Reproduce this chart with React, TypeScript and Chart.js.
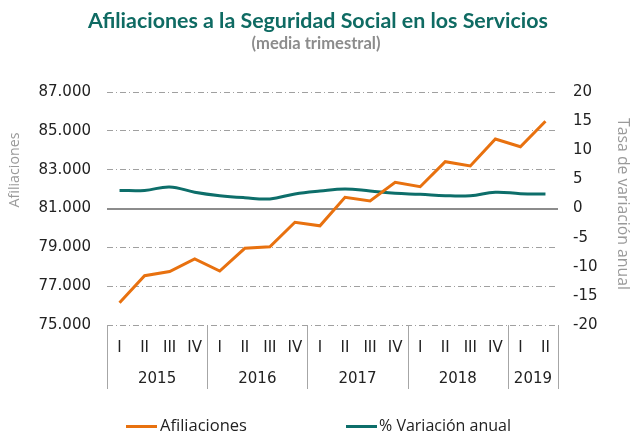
import React, { useEffect, useRef } from "react";
import { Chart, registerables } from "chart.js";

Chart.register(...registerables);

const quarters = ["I", "II", "III", "IV", "I", "II", "III", "IV", "I", "II", "III", "IV", "I", "II", "III", "IV", "I", "II"];
const years = ["2015", "2016", "2017", "2018", "2019"];
const yearSpans = [4, 4, 4, 4, 2];
const afiliaciones = [76150, 77540, 77750, 78400, 77780, 78950, 79030, 80290, 80110, 81580, 81390, 82350, 82120, 83410, 83190, 84580, 84180, 85490];
const variacion = [3.1, 3.1, 3.7, 2.8, 2.2, 1.85, 1.65, 2.5, 3.0, 3.35, 3.0, 2.6, 2.45, 2.2, 2.2, 2.8, 2.55, 2.5];
const leftTicks = [75000, 77000, 79000, 81000, 83000, 85000, 87000];
const rightTicks = [-20, -15, -10, -5, 0, 5, 10, 15, 20];

const TITLE = "Afiliaciones a la Seguridad Social en los Servicios";
const SUBTITLE = "(media trimestral)";
const LEFT_TITLE = "Afiliaciones";
const RIGHT_TITLE = "Tasa de variación anual";
const SERIES_NAMES = ["Afiliaciones", "% Variación anual"];

const ORANGE = "#E8710F";
const TEAL = "#0D6E6A";
const TICK_FONT = "DejaVu Sans";

function fmt(v: number) {
  const s = Math.round(v).toString();
  return s.replace(/\B(?=(\d{3})+(?!\d))/g, ".");
}

function fitFont(ctx: CanvasRenderingContext2D, text: string, weight: string, family: string, target: number, base: number) {
  ctx.font = `${weight} ${base}px "${family}"`;
  const w = ctx.measureText(text).width;
  const size = (base * target) / w;
  ctx.font = `${weight} ${size.toFixed(2)}px "${family}"`;
}

const overlay = {
  id: "overlay",
  afterDraw(chart: any) {
    const ctx: CanvasRenderingContext2D = chart.ctx;
    const xs = chart.scales.x;
    const area = chart.chartArea;
    const n = quarters.length;
    const band = (xs.right - xs.left) / n;
    ctx.save();
    // dividers
    ctx.strokeStyle = "#a6a6a6";
    ctx.lineWidth = 1;
    let idx = 0;
    const bounds = [0];
    yearSpans.forEach((s) => { idx += s; bounds.push(idx); });
    bounds.forEach((b) => {
      const x = Math.round(b < n ? xs.getPixelForValue(b) - band / 2 : xs.getPixelForValue(n - 1) + band / 2) + 0.5;
      ctx.beginPath();
      ctx.moveTo(x, area.bottom);
      ctx.lineTo(x, 389);
      ctx.stroke();
    });
    // year labels
    ctx.fillStyle = "#222";
    ctx.font = `15px "${TICK_FONT}"`;
    ctx.textAlign = "center";
    ctx.textBaseline = "middle";
    let start = 0;
    years.forEach((y, i) => {
      const end = start + yearSpans[i];
      const x0 = xs.getPixelForValue(start) - band / 2;
      const x1 = xs.getPixelForValue(end - 1) + band / 2;
      ctx.fillText(y, (x0 + x1) / 2, 379);
      start = end;
    });
    // title
    ctx.fillStyle = "#0F6B63";
    fitFont(ctx, TITLE, "bold", "Lato", 460, 19);
    ctx.fillText(TITLE, 318, 21);
    ctx.fillStyle = "#8c8c8c";
    fitFont(ctx, SUBTITLE, "bold", "Lato", 129, 15);
    ctx.fillText(SUBTITLE, 316, 44);
    // axis titles
    ctx.fillStyle = "#9a9a9a";
    fitFont(ctx, LEFT_TITLE, "normal", "Open Sans", 75, 14);
    ctx.save();
    ctx.translate(15, 170);
    ctx.rotate(-Math.PI / 2);
    ctx.fillText(LEFT_TITLE, 0, 0);
    ctx.restore();
    fitFont(ctx, RIGHT_TITLE, "normal", "Open Sans", 172, 14);
    ctx.save();
    ctx.translate(622, 204);
    ctx.rotate(Math.PI / 2);
    ctx.fillText(RIGHT_TITLE, 0, 0);
    ctx.restore();
    // legend
    const items = [
      { x0: 126, x1: 157, tx: 160, tw: 87 },
      { x0: 346, x1: 377, tx: 379, tw: 132 },
    ];
    chart.data.datasets.forEach((ds: any, i: number) => {
      const it = items[i];
      ctx.strokeStyle = ds.borderColor;
      ctx.lineWidth = 3;
      ctx.beginPath();
      ctx.moveTo(it.x0, 426.5);
      ctx.lineTo(it.x1, 426.5);
      ctx.stroke();
      ctx.fillStyle = "#222";
      ctx.textAlign = "left";
      fitFont(ctx, ds.label, "normal", "Open Sans", it.tw, 16);
      ctx.fillText(ds.label, it.tx, 426);
    });
    ctx.restore();
  },
};

export default function App() {
  const ref = useRef<HTMLCanvasElement | null>(null);
  useEffect(() => {
    if (!ref.current) return;
    const chart = new Chart(ref.current, {
      type: "line",
      data: {
        labels: quarters,
        datasets: [
          {
            label: SERIES_NAMES[0],
            data: afiliaciones,
            borderColor: ORANGE,
            backgroundColor: ORANGE,
            borderWidth: 3,
            pointRadius: 0,
            tension: 0,
            yAxisID: "y",
          },
          {
            label: SERIES_NAMES[1],
            data: variacion,
            borderColor: TEAL,
            backgroundColor: TEAL,
            borderWidth: 3,
            pointRadius: 0,
            tension: 0.4,
            yAxisID: "y1",
          },
        ],
      },
      options: {
        responsive: false,
        animation: false,
        devicePixelRatio: 1,
        layout: { padding: { top: 92, left: 0, right: 0, bottom: 0 } },
        plugins: { legend: { display: false }, title: { display: false }, tooltip: { enabled: false } },
        scales: {
          x: {
            type: "category",
            offset: true,
            grid: { display: false, drawTicks: false },
            border: { display: false },
            ticks: {
              color: "#222",
              font: { family: TICK_FONT, size: 15 },
              padding: 14,
              maxRotation: 0,
              autoSkip: false,
            },
            afterFit: (s: any) => { s.height = 107; },
          },
          y: {
            position: "left",
            min: 75000,
            max: 87000,
            afterBuildTicks: (s: any) => { s.ticks = leftTicks.map((v) => ({ value: v })); },
            grid: {
              drawTicks: false,
              color: (c: any) => (c.tick && c.tick.value === 81000 ? "rgba(0,0,0,0)" : "#a0a0a0"),
              lineWidth: 1,
            },
            border: { display: false, dash: [6, 3, 1, 3] },
            ticks: {
              color: "#222",
              font: { family: TICK_FONT, size: 15 },
              padding: 16,
              callback: (v: any) => fmt(Number(v)),
            },
            afterFit: (s: any) => { s.width = 107; },
          },
          y1: {
            position: "right",
            min: -20,
            max: 20,
            afterBuildTicks: (s: any) => { s.ticks = rightTicks.map((v) => ({ value: v })); },
            grid: {
              drawTicks: false,
              drawOnChartArea: true,
              color: (c: any) => (c.tick && c.tick.value === 0 ? "#8c8c8c" : "rgba(0,0,0,0)"),
              lineWidth: 2,
            },
            border: { display: false },
            ticks: {
              color: "#222",
              font: { family: TICK_FONT, size: 15 },
              padding: 15,
              callback: (v: any) => String(v),
            },
            afterFit: (s: any) => { s.width = 74; },
          },
        },
      },
      plugins: [overlay],
    } as any);
    return () => chart.destroy();
  }, []);
  return (
    <div style={{ position: "absolute", left: 0, top: 0, width: 632, height: 432, background: "#fff" }}>
      <canvas ref={ref} width={632} height={432} />
    </div>
  );
}
